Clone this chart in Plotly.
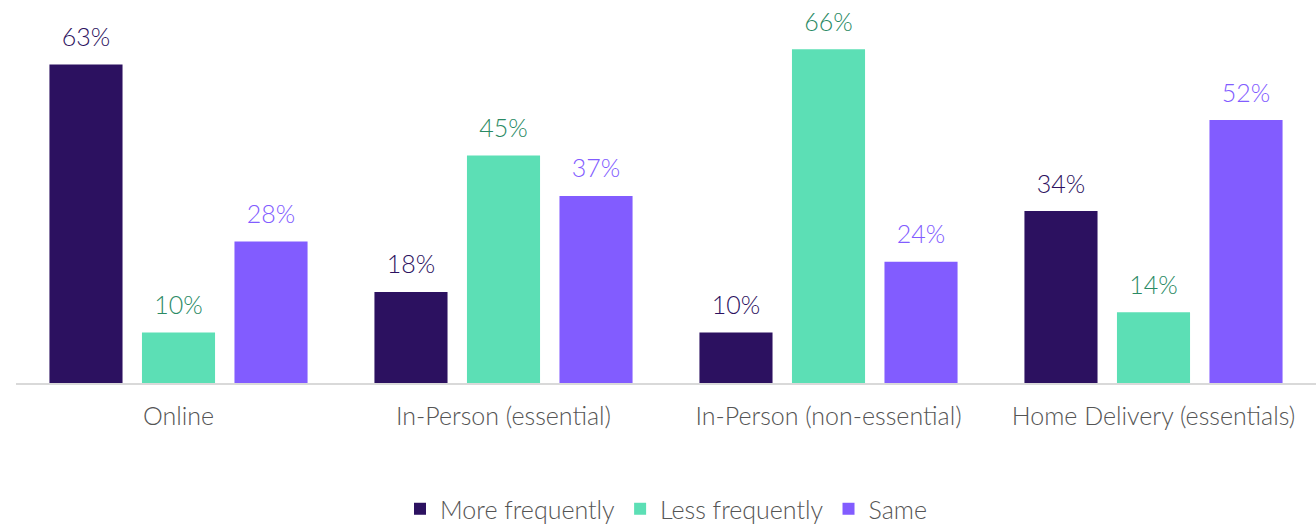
import plotly.graph_objects as go

categories = ["Online", "In-Person (essential)", "In-Person (non-essential)", "Home Delivery (essentials)"]
more_freq = [63, 18, 10, 34]
less_freq = [10, 45, 66, 14]
same = [28, 37, 24, 52]

series = [
    ("More frequently", more_freq, "#2C1160", "#2C1160"),
    ("Less frequently", less_freq, "#5CDFB5", "#2A8A64"),
    ("Same", same, "#825CFF", "#825CFF"),
]

FONT = "Lato"
W = 300
fig = go.Figure()
for name, vals, color, tcolor in series:
    fig.add_trace(go.Bar(
        x=categories, y=vals, name=name, offsetgroup=name,
        marker=dict(color=color, line=dict(width=0)),
    ))
for name, vals, color, tcolor in series:
    fig.add_trace(go.Scatter(
        x=categories, y=vals, name=name, offsetgroup=name, showlegend=False,
        mode="markers+text",
        marker=dict(size=18, color="rgba(0,0,0,0)"),
        text=[f"{v}%" for v in vals], textposition="top center",
        textfont=dict(color=tcolor, size=25, family=FONT, weight=W),
        cliponaxis=False, hoverinfo="skip",
    ))

fig.update_layout(
    width=1316, height=525,
    margin=dict(l=16, r=0, t=29, b=142, autoexpand=False),
    paper_bgcolor="white", plot_bgcolor="white",
    barmode="group", bargap=0.146, bargroupgap=0.21,
    scattermode="group", scattergap=0.146,
    font=dict(family=FONT, color="#555555", size=25, weight=W),
    showlegend=True,
    legend=dict(orientation="h", x=0.5, xanchor="center", y=-0.291, yanchor="top",
                font=dict(size=25, color="#555555", family=FONT, weight=W), itemwidth=30,
                traceorder="normal"),
)
fig.update_xaxes(showline=True, linecolor="#D9D9D9", linewidth=2, ticks="",
                 ticklabelstandoff=10, automargin=False,
                 tickfont=dict(size=25, color="#555555", family=FONT, weight=W), showgrid=False)
fig.update_yaxes(range=[0, 70], visible=False, showgrid=False)

fig.write_html("out.html")
